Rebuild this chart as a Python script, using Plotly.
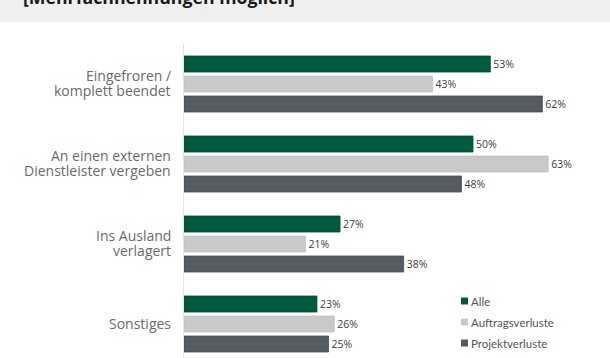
import plotly.graph_objects as go

categories = ["Eingefroren /\nkomplett beendet", "An einen externen\nDienstleister vergeben",
              "Ins Ausland\nverlagert", "Sonstiges"]
series_names = ["Alle", "Auftragsverluste", "Projektverluste"]
alle = [53, 50, 27, 23]
auftrag = [43, 63, 21, 26]
projekt = [62, 48, 38, 25]
colors = ["#015940", "#c9c9c9", "#545b63"]
line_colors = ["#014a35", "#c2c2c2", "#474d54"]
title_text = "[Mehrfachnennungen möglich]"

W, H = 610, 358
L, T = 184, 44
PW, PH = W - L, H - T

def px_x(x):
    return (x - L) / PW

def px_y(y):
    return (H - y) / PH

fig = go.Figure()
for name, vals, c, lc in zip(series_names, [alle, auftrag, projekt], colors, line_colors):
    fig.add_trace(go.Bar(
        y=categories, x=vals, name=name, orientation="h",
        marker=dict(color=c, line=dict(color=lc, width=0.8)),
        text=[f"{v}%" for v in vals], textposition="outside",
        textfont=dict(family="Open Sans", size=10.5, color="#3c3c3c"),
        cliponaxis=False, showlegend=False,
    ))

fig.update_layout(
    width=W, height=H,
    margin=dict(l=L, r=0, t=T, b=0, pad=0),
    barmode="group", bargap=0.25, bargroupgap=0.2,
    plot_bgcolor="white", paper_bgcolor="white",
    xaxis=dict(range=[0, PW / 5.78], visible=False),
    yaxis=dict(range=[-0.5 + PH / 80, -0.5], showline=True, linecolor="#e3e3e3", linewidth=1,
               showgrid=False, ticks="", showticklabels=False),
    font=dict(family="Open Sans"),
)

# category labels (tight line spacing)
for cat in categories:
    lines = cat.split("\n")
    n = len(lines)
    for i, line in enumerate(lines):
        fig.add_annotation(xref="paper", yref="y", x=px_x(172.5), y=cat,
                           xanchor="right", yanchor="middle", showarrow=False,
                           text=line, yshift=-(i - (n - 1) / 2) * 14.5 + 1,
                           font=dict(family="Open Sans", size=14, color="#6a6a6a"))

# header band
fig.add_shape(type="rect", xref="paper", yref="paper",
              x0=px_x(0), x1=px_x(W), y0=px_y(22), y1=px_y(-5),
              fillcolor="#efefef", line=dict(width=0), layer="below")
fig.add_annotation(xref="paper", yref="paper", x=px_x(21), y=px_y(11),
                   xanchor="left", yanchor="bottom", showarrow=False,
                   text=f"<b>{title_text}</b>",
                   font=dict(family="Open Sans", size=17.7, color="#1a1a1a"))

# legend
leg_y = [301, 322, 343]
for name, c, ly in zip(series_names, colors, leg_y):
    fig.add_shape(type="rect", xref="paper", yref="paper",
                  x0=px_x(461), x1=px_x(468), y0=px_y(ly + 3.5), y1=px_y(ly - 3.5),
                  fillcolor=c, line=dict(width=0))
    fig.add_annotation(xref="paper", yref="paper", x=px_x(469), y=px_y(ly),
                       xanchor="left", yanchor="middle", showarrow=False, text=name,
                       font=dict(family="Lato", size=11.5, color="#555555"))

fig.write_html("out.html", config={"displayModeBar": False},
               post_script="document.body.style.margin='0';document.body.style.overflow='hidden';")
